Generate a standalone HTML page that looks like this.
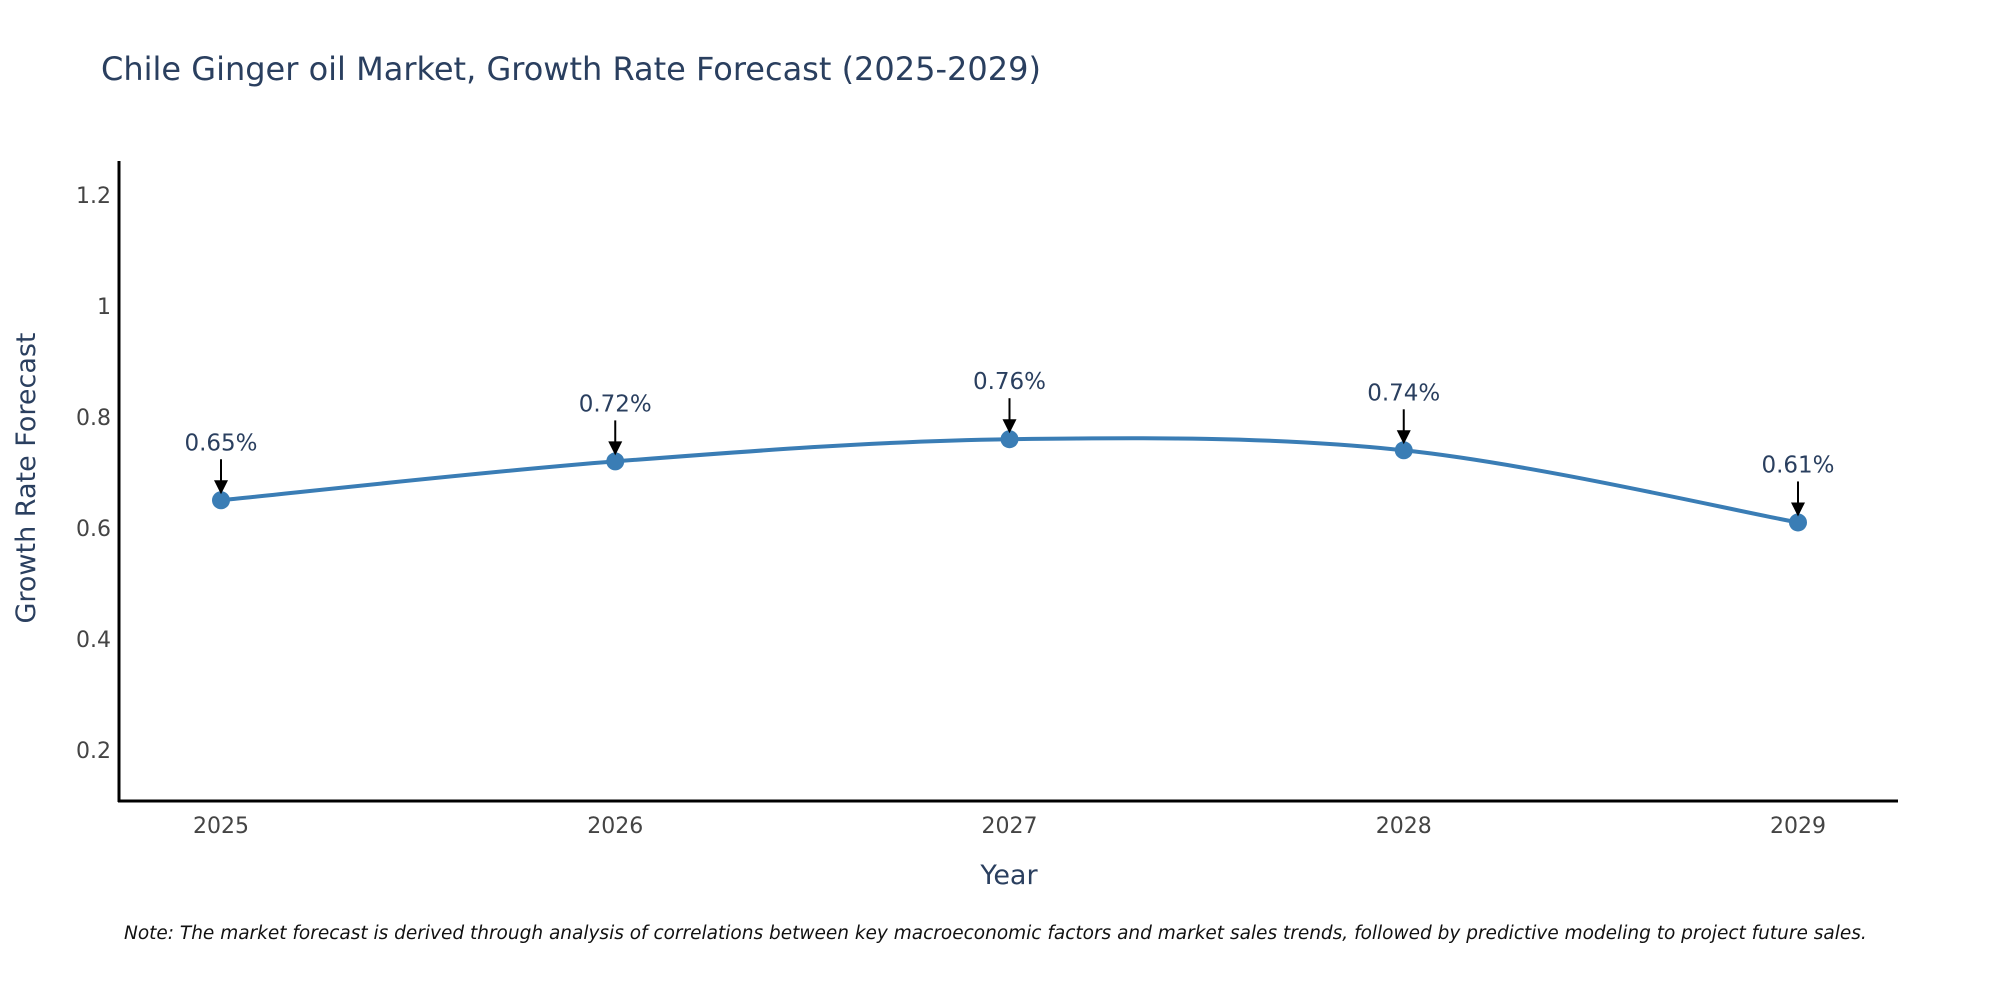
<!DOCTYPE html>
<html><head><meta charset="utf-8">
<style>
html,body{margin:0;padding:0;background:#fff;}
svg{display:block;font-family:"DejaVu Sans","Liberation Sans",sans-serif;}
</style></head>
<body>
<svg id="chart" width="2000" height="1000" viewBox="0 0 2000 1000" xmlns="http://www.w3.org/2000/svg">
<rect width="2000" height="1000" fill="#fff"/>
<text x="101" y="80" font-size="32" fill="#2a3f5f">Chile Ginger oil Market, Growth Rate Forecast (2025-2029)</text>
<g id="yticks"></g>
<g id="xticks"></g>
<line x1="119" y1="161" x2="119" y2="802" stroke="#000" stroke-width="3"/>
<line x1="118" y1="801" x2="1898" y2="801" stroke="#000" stroke-width="3"/>
<path id="series" fill="none" stroke="#3a7db5" stroke-width="4"/>
<g id="points"></g>
<g id="annots"></g>
<text x="1009" y="884" font-size="27" fill="#2a3f5f" text-anchor="middle">Year</text>
<text transform="translate(35,478) rotate(-90)" font-size="27" fill="#2a3f5f" text-anchor="middle">Growth Rate Forecast</text>
<text x="124" y="939" font-size="18.5" font-style="italic" fill="#111">Note: The market forecast is derived through analysis of correlations between key macroeconomic factors and market sales trends, followed by predictive modeling to project future sales.</text>
</svg>
<script>
const years = ["2025","2026","2027","2028","2029"];
const values = [0.65, 0.72, 0.76, 0.74, 0.61];
const labels = ["0.65%","0.72%","0.76%","0.74%","0.61%"];
const yTicks = [0.2, 0.4, 0.6, 0.8, 1, 1.2];

const NS = "http://www.w3.org/2000/svg";
const xScale = i => 221 + i * (1798 - 221) / (years.length - 1);
const yScale = v => 861 - 555 * v;
function mk(tag, attrs, parent) {
  const e = document.createElementNS(NS, tag);
  for (const k in attrs) e.setAttribute(k, attrs[k]);
  parent.appendChild(e);
  return e;
}
const yg = document.getElementById('yticks');
yTicks.forEach(t => {
  const e = mk('text', {x: 111, y: yScale(t) + 8, 'font-size': 22, fill: '#444', 'text-anchor': 'end'}, yg);
  
  
  e.textContent = String(t);
});
const xg = document.getElementById('xticks');
years.forEach((y, i) => {
  const e = mk('text', {x: xScale(i), y: 833, 'font-size': 22, fill: '#444', 'text-anchor': 'middle'}, xg);
  
  
  e.textContent = y;
});
const pts = values.map((v, i) => [xScale(i), yScale(v)]);
let d = `M${pts[0][0]},${pts[0][1]}`;
const tn = 0.5;
for (let i = 0; i < pts.length - 1; i++) {
  const p0 = pts[Math.max(0, i - 1)], p1 = pts[i], p2 = pts[i + 1], p3 = pts[Math.min(pts.length - 1, i + 2)];
  const c1 = [p1[0] + (p2[0] - p0[0]) * tn / 3, p1[1] + (p2[1] - p0[1]) * tn / 3];
  const c2 = [p2[0] - (p3[0] - p1[0]) * tn / 3, p2[1] - (p3[1] - p1[1]) * tn / 3];
  d += ` C${c1[0]},${c1[1]} ${c2[0]},${c2[1]} ${p2[0]},${p2[1]}`;
}
document.getElementById('series').setAttribute('d', d);
const pg = document.getElementById('points');
const ag = document.getElementById('annots');
pts.forEach((p, i) => {
  const c = mk('circle', {cx: p[0], cy: p[1], r: 9, fill: '#3a7db5'}, pg);
  
  
  const l = mk('line', {x1: p[0], y1: p[1] - 41, x2: p[0], y2: p[1] - 18, stroke: '#000', 'stroke-width': 2}, ag);
  
  
  const h = mk('path', {d: `M${p[0]-7},${p[1]-20} L${p[0]+7},${p[1]-20} L${p[0]},${p[1]-6} Z`, fill: '#000'}, ag);
  
  
  const t = mk('text', {x: p[0], y: p[1] - 50, 'font-size': 23, fill: '#2a3f5f', 'text-anchor': 'middle'}, ag);
  
  
  t.textContent = labels[i];
});
</script>
</body></html>
